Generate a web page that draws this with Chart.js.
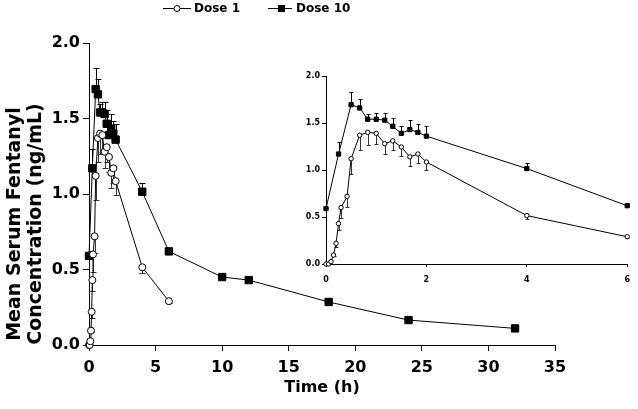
<!DOCTYPE html>
<html>
<head>
<meta charset="utf-8">
<script src="https://cdn.jsdelivr.net/npm/chart.js@4/dist/chart.umd.min.js"></script>
<style>
  body { margin: 0; background: #fff; }
  #wrap { position: relative; width: 638px; height: 409px; }
  #mainChart { position: absolute; left: 0; top: 0; }
  #insetChart { position: absolute; left: 290px; top: 62px; }
</style>
</head>
<body>
<div id="wrap">
  <canvas id="mainChart" width="638" height="409"></canvas>
  <canvas id="insetChart" width="348" height="228"></canvas>
</div>
<script>
// hours after dose
const timeDose1 = [0, 0.05, 0.1, 0.15, 0.2, 0.25, 0.3, 0.42, 0.5, 0.67, 0.83, 1.0, 1.17, 1.33, 1.5, 1.67, 1.83, 2.0, 4, 6];
const concDose1 = [0.0, 0.0, 0.025, 0.095, 0.22, 0.43, 0.6, 0.72, 1.12, 1.37, 1.4, 1.39, 1.28, 1.31, 1.245, 1.14, 1.17, 1.085, 0.515, 0.29];
// Dose 1 error bars hang below the points
const errDose1 = [0, 0, 0, 0.01, 0.04, 0.07, 0.115, 0.11, 0.16, 0.16, 0.135, 0.115, 0.11, 0.095, 0.1, 0.1, 0.1, 0.09, 0.035, 0.015];

const timeDose10 = [0, 0.25, 0.5, 0.67, 0.83, 1.0, 1.17, 1.33, 1.5, 1.67, 1.83, 2.0, 4, 6, 10, 12, 18, 24, 32];
const concDose10 = [0.59, 1.17, 1.695, 1.66, 1.54, 1.54, 1.53, 1.465, 1.39, 1.43, 1.4, 1.36, 1.015, 0.62, 0.45, 0.43, 0.285, 0.165, 0.11];
// Dose 10 error bars go up
const errDose10 = [0.01, 0.13, 0.14, 0.1, 0.055, 0.07, 0.08, 0.09, 0.075, 0.1, 0.085, 0.105, 0.06, 0.025, 0.015, 0.01, 0.02, 0.01, 0.015];

const mainXTicks = [0, 5, 10, 15, 20, 25, 30, 35];
const mainYTicks = [0, 0.5, 1.0, 1.5, 2.0];
const insetXTicks = [0, 2, 4, 6];
const insetYTicks = [0, 0.5, 1.0, 1.5, 2.0];
const insetMaxTime = 6;

const seriesNames = ["Dose 1", "Dose 10"];
const yTitleLines = ["Mean Serum Fentanyl", "Concentration (ng/mL)"];

const FONT = "DejaVu Sans";

const toPoints = (times, conc, maxT) =>
  times.map((t, i) => ({ x: t, y: conc[i] })).filter(p => maxT === undefined || p.x <= maxT);

const errSlice = (times, errs, maxT) =>
  errs.filter((e, i) => maxT === undefined || times[i] <= maxT);

const errorBarPlugin = {
  id: "errorBars",
  beforeDatasetsDraw(chart, args, opts) {
    const ctx = chart.ctx;
    const yScale = chart.scales.y;
    ctx.save();
    chart.data.datasets.forEach((ds, i) => {
      const meta = chart.getDatasetMeta(i);
      ctx.strokeStyle = ds.errorColor;
      ctx.lineWidth = 1;
      meta.data.forEach((pt, j) => {
        const err = ds.errors[j];
        if (!err) return;
        const v = ds.data[j].y + ds.errorDir * err;
        const y2 = Math.round(yScale.getPixelForValue(v)) + 0.5;
        const x = Math.round(pt.x) + 0.5;
        ctx.beginPath();
        ctx.moveTo(x, pt.y);
        ctx.lineTo(x, y2);
        ctx.moveTo(x - opts.cap, y2);
        ctx.lineTo(x + opts.cap, y2);
        ctx.stroke();
      });
    });
    ctx.restore();
  }
};

// legend and the two-line y title of the big chart
const decorPlugin = {
  id: "decor",
  afterDraw(chart) {
    const ctx = chart.ctx;
    ctx.save();
    ctx.fillStyle = "#000";
    ctx.strokeStyle = "#000";
    ctx.lineWidth = 1;

    // legend
    const ly = 8.5;
    ctx.beginPath();
    ctx.moveTo(163, ly); ctx.lineTo(191, ly);
    ctx.moveTo(268, ly); ctx.lineTo(292, ly);
    ctx.stroke();
    ctx.beginPath();
    ctx.arc(177, ly, 3, 0, Math.PI * 2);
    ctx.fillStyle = "#fff";
    ctx.fill();
    ctx.stroke();
    ctx.fillStyle = "#000";
    ctx.fillRect(278, ly - 3.5, 7, 7);
    ctx.font = "bold 12px '" + FONT + "'";
    ctx.textBaseline = "middle";
    ctx.textAlign = "left";
    ctx.fillText(seriesNames[0], 194, ly);
    ctx.fillText(seriesNames[1], 296, ly);

    // y title
    ctx.font = "bold 19px '" + FONT + "'";
    ctx.textAlign = "center";
    ctx.textBaseline = "middle";
    [15, 36].forEach((x, i) => {
      ctx.save();
      ctx.translate(x, 224);
      ctx.rotate(-Math.PI / 2);
      ctx.fillText(yTitleLines[i], 0, 0);
      ctx.restore();
    });
    ctx.restore();
  }
};

const makeDatasets = (maxT, r1, r10) => [
  {
    label: seriesNames[0],
    data: toPoints(timeDose1, concDose1, maxT),
    errors: errSlice(timeDose1, errDose1, maxT),
    errorDir: -1,
    errorColor: "#333",
    borderColor: "#000",
    borderWidth: 1,
    pointStyle: "circle",
    pointRadius: r1,
    pointBackgroundColor: "#fff",
    pointBorderColor: "#000",
    pointBorderWidth: 1,
    tension: 0,
    clip: false
  },
  {
    label: seriesNames[1],
    data: toPoints(timeDose10, concDose10, maxT),
    errors: errSlice(timeDose10, errDose10, maxT),
    errorDir: 1,
    errorColor: "#000",
    borderColor: "#000",
    borderWidth: 1,
    pointStyle: "rect",
    pointRadius: r10,
    pointBackgroundColor: "#000",
    pointBorderColor: "#000",
    pointBorderWidth: 1,
    tension: 0,
    clip: false
  }
];

const axisStyle = (fontSize, tickLen, pad) => ({
  grid: { drawOnChartArea: false, color: "#000", tickLength: tickLen, tickWidth: 1 },
  border: { color: "#000", width: 1 },
  ticks: {
    color: "#000",
    padding: pad,
    maxRotation: 0,
    autoSkip: false,
    font: { family: FONT, weight: "bold", size: fontSize },
    callback: v => v
  }
});

const mainX = axisStyle(16, 6, 7);
const mainY = axisStyle(16, 6, 3);
mainY.ticks.callback = v => v.toFixed(1);

const mainChart = new Chart(document.getElementById("mainChart").getContext("2d"), {
  type: "line",
  data: { datasets: makeDatasets(undefined, 3.5, 5.2) },
  options: {
    responsive: false,
    animation: false,
    layout: { padding: { left: 0, top: 43, right: 83, bottom: 0 } },
    plugins: { legend: { display: false }, tooltip: { enabled: false }, errorBars: { cap: 3 } },
    scales: {
      x: {
        type: "linear", min: 0, max: 35,
        ...mainX,
        afterBuildTicks: s => { s.ticks = mainXTicks.map(v => ({ value: v })); },
        afterFit: s => { s.height = 64; },
        title: {
          display: true, text: "Time (h)", color: "#000",
          font: { family: FONT, weight: "bold", size: 16 },
          padding: { top: 0, bottom: 12 }
        }
      },
      y: {
        type: "linear", min: 0, max: 2,
        ...mainY,
        afterBuildTicks: s => { s.ticks = mainYTicks.map(v => ({ value: v })); },
        afterFit: s => { s.width = 89; }
      }
    }
  },
  plugins: [errorBarPlugin, decorPlugin]
});

const insetX = axisStyle(8, 3, 8);
const insetY = axisStyle(8, 4, 2);
insetY.ticks.callback = v => v.toFixed(1);

const insetChart = new Chart(document.getElementById("insetChart").getContext("2d"), {
  type: "line",
  data: { datasets: makeDatasets(insetMaxTime, 2.2, 3) },
  options: {
    responsive: false,
    animation: false,
    layout: { padding: { left: 0, top: 14, right: 3, bottom: 0 } },
    plugins: { legend: { display: false }, tooltip: { enabled: false }, errorBars: { cap: 2 } },
    scales: {
      x: {
        type: "linear", min: 0, max: insetMaxTime,
        ...insetX,
        afterBuildTicks: s => { s.ticks = insetXTicks.map(v => ({ value: v })); },
        afterFit: s => { s.height = 26; }
      },
      y: {
        type: "linear", min: 0, max: 2,
        ...insetY,
        afterBuildTicks: s => { s.ticks = insetYTicks.map(v => ({ value: v })); },
        afterFit: s => { s.width = 36; }
      }
    }
  },
  plugins: [errorBarPlugin]
});
</script>
</body>
</html>
